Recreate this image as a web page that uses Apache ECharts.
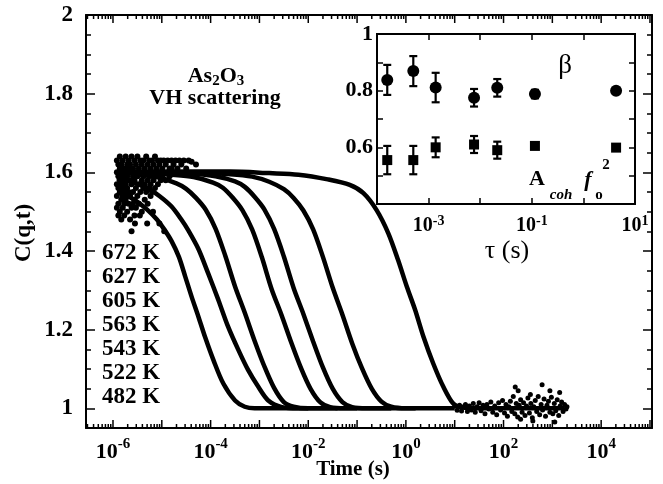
<!DOCTYPE html>
<html><head><meta charset="utf-8">
<script src="https://cdn.jsdelivr.net/npm/echarts@6/dist/echarts.min.js"></script>
<style>html,body{margin:0;padding:0;background:#fff}#c{width:663px;height:484px}</style>
</head><body><div id="c"></div>
<script>
const FONT = '"Liberation Serif","Times New Roman",Times,serif';

// ---------- main panel data: log10(time / s) and C(q,t) ----------
const temps = ['672 K', '627 K', '605 K', '563 K', '543 K', '522 K', '482 K'];

const logT_672 = [-5.92, -5.7, -5.5, -5.3, -5.1, -4.95, -4.8, -4.65, -4.52, -4.39, -4.25, -4.11, -3.94, -3.74, -3.5, -3.3, -3.1, -2.8, -2.4, -2.0];
const C_672    = [1.55, 1.54, 1.525, 1.505, 1.48, 1.455, 1.425, 1.385, 1.335, 1.284, 1.233, 1.18, 1.122, 1.063, 1.02, 1.004, 1.0, 1.0, 1.0, 1.0];

const logT_627 = [-5.92, -5.6, -5.3, -5.05, -4.8, -4.6, -4.46, -4.25, -4.05, -3.84, -3.64, -3.43, -3.23, -3.02, -2.82, -2.54, -2.2, -1.8, -1.4];
const C_627    = [1.585, 1.575, 1.56, 1.54, 1.513, 1.48, 1.453, 1.405, 1.343, 1.275, 1.207, 1.148, 1.097, 1.054, 1.02, 1.003, 1.0, 1.0, 1.0];

const logT_605 = [-5.92, -5.5, -5.1, -4.7, -4.5, -4.3, -4.1, -3.9, -3.7, -3.5, -3.3, -3.1, -2.9, -2.7, -2.5, -2.3, -2.0, -1.5, -1.0];
const C_605    = [1.60, 1.595, 1.588, 1.572, 1.558, 1.535, 1.505, 1.457, 1.388, 1.31, 1.243, 1.172, 1.107, 1.052, 1.016, 1.004, 1.0, 1.0, 1.0];

const logT_563 = [-5.92, -5.3, -4.8, -4.35, -3.95, -3.75, -3.55, -3.35, -3.15, -2.95, -2.75, -2.55, -2.35, -2.15, -1.95, -1.75, -1.55, -1.25, -0.8, -0.3];
const C_563    = [1.60, 1.598, 1.594, 1.588, 1.574, 1.561, 1.536, 1.504, 1.455, 1.384, 1.303, 1.238, 1.168, 1.103, 1.049, 1.015, 1.003, 1.0, 1.0, 1.0];

const logT_543 = [-5.92, -5.0, -4.4, -3.9, -3.5, -3.3, -3.1, -2.9, -2.7, -2.5, -2.3, -2.1, -1.9, -1.7, -1.5, -1.3, -1.1, -0.8, -0.3, 0.2];
const C_543    = [1.60, 1.60, 1.597, 1.59, 1.577, 1.563, 1.538, 1.506, 1.456, 1.386, 1.306, 1.24, 1.17, 1.104, 1.05, 1.016, 1.003, 1.0, 1.0, 1.0];

const logT_522 = [-5.92, -4.5, -3.6, -3.15, -2.8, -2.5, -2.3, -2.1, -1.9, -1.7, -1.5, -1.3, -1.1, -0.9, -0.7, -0.5, -0.3, 0.0, 0.5, 1.0];
const C_522    = [1.60, 1.60, 1.595, 1.589, 1.576, 1.557, 1.535, 1.503, 1.455, 1.385, 1.307, 1.238, 1.165, 1.102, 1.05, 1.017, 1.004, 1.0, 1.0, 1.0];

const logT_482 = [-5.92, -4.5, -3.6, -2.8, -2.2, -1.6, -1.15, -0.87, -0.6, -0.36, -0.16, 0.02, 0.19, 0.36, 0.56, 0.77, 0.97, 1.15, 1.5, 2.0, 2.5, 3.0, 3.25];
const C_482    = [1.60, 1.602, 1.602, 1.598, 1.594, 1.582, 1.568, 1.547, 1.504, 1.445, 1.377, 1.309, 1.25, 1.182, 1.114, 1.054, 1.012, 1.002, 1.0, 1.0, 1.0, 1.0, 1.0];

// scattered early-time points, [log10 t, C] (all temperatures overlap here)
const noiseEarly = [
  [-5.92,1.63],[-5.92,1.60],[-5.92,1.57],[-5.92,1.54],[-5.92,1.51],
  [-5.89,1.62],[-5.89,1.59],[-5.89,1.56],[-5.89,1.52],[-5.89,1.49],
  [-5.86,1.64],[-5.86,1.61],[-5.86,1.58],[-5.86,1.55],[-5.86,1.50],
  [-5.83,1.62],[-5.83,1.60],[-5.83,1.57],[-5.83,1.53],[-5.83,1.48],
  [-5.80,1.63],[-5.80,1.59],[-5.80,1.56],[-5.80,1.54],[-5.80,1.51],
  [-5.77,1.61],[-5.77,1.58],[-5.77,1.55],[-5.77,1.52],[-5.77,1.49],
  [-5.74,1.64],[-5.74,1.60],[-5.74,1.57],[-5.74,1.53],
  [-5.71,1.62],[-5.71,1.59],[-5.71,1.56],[-5.71,1.50],
  [-5.68,1.63],[-5.68,1.61],[-5.68,1.55],[-5.68,1.52],
  [-5.65,1.62],[-5.65,1.58],[-5.65,1.54],[-5.65,1.48],
  [-5.62,1.64],[-5.62,1.60],[-5.62,1.57],[-5.62,1.51],
  [-5.59,1.61],[-5.59,1.59],[-5.59,1.55],[-5.59,1.52],
  [-5.56,1.63],[-5.56,1.58],[-5.56,1.53],[-5.56,1.49],
  [-5.53,1.62],[-5.53,1.60],[-5.53,1.56],[-5.53,1.51],
  [-5.50,1.64],[-5.50,1.59],[-5.50,1.54],
  [-5.47,1.61],[-5.47,1.57],[-5.47,1.52],
  [-5.44,1.63],[-5.44,1.60],[-5.44,1.55],
  [-5.41,1.62],[-5.41,1.58],[-5.41,1.50],
  [-5.38,1.63],[-5.38,1.59],[-5.38,1.56],
  [-5.35,1.61],[-5.35,1.57],[-5.35,1.53],
  [-5.32,1.64],[-5.32,1.60],[-5.32,1.55],
  [-5.29,1.62],[-5.29,1.58],[-5.29,1.52],
  [-5.26,1.63],[-5.26,1.59],[-5.26,1.56],
  [-5.23,1.61],[-5.23,1.57],[-5.23,1.54],
  [-5.20,1.63],[-5.20,1.60],[-5.20,1.55],
  [-5.17,1.62],[-5.17,1.58],
  [-5.14,1.64],[-5.14,1.60],[-5.14,1.56],
  [-5.11,1.61],[-5.11,1.59],
  [-5.08,1.63],[-5.08,1.57],
  [-5.05,1.62],[-5.05,1.60],
  [-5.02,1.63],[-5.02,1.58],
  [-4.99,1.61],[-4.99,1.59],
  [-4.96,1.63],[-4.96,1.60],
  [-4.92,1.62],[-4.92,1.58],
  [-4.88,1.63],[-4.88,1.60],
  [-4.84,1.61],[-4.84,1.59],
  [-4.80,1.63],[-4.80,1.61],
  [-4.76,1.62],[-4.76,1.60],
  [-4.72,1.63],[-4.68,1.61],[-4.64,1.63],[-4.60,1.62],[-4.55,1.63],
  [-4.50,1.61],[-4.45,1.63],[-4.39,1.627],[-4.30,1.62],
  [-5.55,1.47],[-5.45,1.49],[-5.30,1.47],[-5.18,1.50],[-5.05,1.47],[-4.95,1.45],[-5.62,1.45]
];

// scattered long-time tail of the 482 K run, [log10 t, C]
const noiseTail = [
  [1.00,1.005],[1.05,0.995],[1.10,1.008],[1.14,0.993],[1.18,1.004],[1.22,1.010],[1.26,0.992],[1.30,1.006],
  [1.34,0.996],[1.38,1.012],[1.42,0.990],[1.46,1.004],[1.50,1.014],[1.54,0.994],[1.58,1.008],[1.62,0.986],
  [1.66,1.010],[1.70,0.998],[1.74,1.016],[1.78,0.990],[1.82,1.006],[1.86,0.984],[1.90,1.014],[1.94,0.996],
  [1.98,1.020],[2.02,0.988],[2.05,1.010],[2.08,0.980],[2.11,1.004],[2.14,1.018],[2.17,0.992],[2.20,1.030],
  [2.23,0.986],[2.24,1.054],[2.26,1.012],[2.29,0.978],[2.30,1.045],[2.32,1.008],[2.35,1.022],[2.35,0.972],
  [2.38,0.990],[2.41,1.014],[2.44,0.982],[2.47,1.006],[2.50,1.026],[2.53,0.988],[2.55,1.035],[2.56,1.012],
  [2.59,0.976],[2.60,0.968],[2.62,1.004],[2.65,1.020],[2.68,0.992],[2.71,1.030],[2.74,0.984],[2.77,1.010],
  [2.79,1.060],[2.80,0.996],[2.83,1.024],[2.86,0.980],[2.89,1.008],[2.92,1.018],[2.95,0.990],[2.95,1.045],
  [2.98,1.028],[3.01,0.986],[3.04,1.012],[3.05,0.965],[3.07,0.994],[3.10,1.022],[3.13,0.982],[3.15,1.040],
  [3.16,1.006],[3.19,1.016],[3.22,0.992],[3.25,1.010],[3.28,0.998],[3.30,1.004]
];

// ---------- inset data ----------
const tau     = [1.58e-4, 5.05e-4, 1.37e-3, 7.6e-3, 0.0214, 0.115, 4.3];
const beta    = [0.838, 0.869, 0.811, 0.775, 0.81, 0.788, 0.80];
const betaErr = [0.053, 0.053, 0.052, 0.031, 0.031, 0.015, 0];
const aCoh    = [0.555, 0.555, 0.60, 0.61, 0.59, 0.605, 0.599];
const aCohErr = [0.05, 0.05, 0.035, 0.03, 0.03, 0, 0];

// ---------- tick labels ----------
const mainXTickExps = [-6, -4, -2, 0, 2, 4];
const mainYTickLabels = ['1', '1.2', '1.4', '1.6', '1.8', '2'];
const insetXTickExps = [-3, -1, 1];
const insetYTickLabels = ['0.6', '0.8', '1'];

// ---------- build ----------
const curves = [[logT_672, C_672], [logT_627, C_627], [logT_605, C_605], [logT_563, C_563], [logT_543, C_543], [logT_522, C_522], [logT_482, C_482]];
const toPairs = (lt, c) => lt.map((v, i) => [Math.pow(10, v), c[i]]);
const fromLogPairs = arr => arr.map(p => [Math.pow(10, p[0]), p[1]]);

const X_MIN = 2.8e-7, X_MAX = 1.1e5;
// log-axis tick marks (decades and 2..9 sub-divisions)
const xTickMarks = [];
for (let d = -7; d <= 5; d++) {
  for (let k = 1; k <= 9; k++) {
    const v = k * Math.pow(10, d);
    if (v > X_MIN * 1.001 && v < X_MAX * 0.999) xTickMarks.push([v, 1.5, k === 1 ? 8 : 4]);
  }
}

function expOf(v) {
  const l = Math.log10(v), e = Math.round(l);
  return Math.abs(l - e) < 1e-6 ? e : null;
}
function numLabel(v) { return String(+v.toFixed(2)); }

const richMain = {
  b: { fontFamily: FONT, fontWeight: 'bold', fontSize: 22, lineHeight: 26, color: '#000', verticalAlign: 'bottom' },
  s: { fontFamily: FONT, fontWeight: 'bold', fontSize: 15, lineHeight: 15, color: '#000', verticalAlign: 'top' }
};
const richInset = {
  b: { fontFamily: FONT, fontWeight: 'bold', fontSize: 20, lineHeight: 22, color: '#000', verticalAlign: 'bottom' },
  s: { fontFamily: FONT, fontWeight: 'bold', fontSize: 14, lineHeight: 13, color: '#000', verticalAlign: 'top' }
};

const axLine = { show: true, lineStyle: { color: '#000', width: 2 } };

const option = {
  animation: false,
  backgroundColor: '#fff',
  grid: [
    { left: 86, top: 15, width: 566, height: 413, show: false },
    { left: 377, top: 34, width: 258, height: 170, show: true, backgroundColor: '#fff', borderColor: '#000', borderWidth: 2 }
  ],
  xAxis: [
    { gridIndex: 0, type: 'log', logBase: 100, min: X_MIN, max: X_MAX, position: 'bottom',
      axisLine: axLine, axisTick: { show: false }, splitLine: { show: false },
      axisLabel: { margin: 9, rich: richMain, showMinLabel: false, showMaxLabel: false,
        formatter: v => { const e = expOf(v); return (e !== null && mainXTickExps.includes(e)) ? '{b|10}{s|' + e + '}' : ''; } } },
    { gridIndex: 0, type: 'log', logBase: 100, min: X_MIN, max: X_MAX, position: 'top',
      axisLine: axLine, axisTick: { show: false }, splitLine: { show: false }, axisLabel: { show: false } },
    { gridIndex: 1, type: 'log', logBase: 10, min: 1e-4, max: 10, position: 'bottom',
      axisLine: axLine, axisTick: { inside: true, length: 6, lineStyle: { color: '#000', width: 1.5 } }, splitLine: { show: false },
      axisLabel: { margin: 10, rich: richInset,
        formatter: v => { const e = expOf(v); return (e !== null && insetXTickExps.includes(e)) ? '{b|10}{s|' + e + '}' : ''; } } },
    { gridIndex: 1, type: 'log', logBase: 10, min: 1e-4, max: 10, position: 'top',
      axisLine: axLine, axisTick: { inside: true, length: 6, lineStyle: { color: '#000', width: 1.5 } }, splitLine: { show: false }, axisLabel: { show: false } }
  ],
  yAxis: [
    { gridIndex: 0, type: 'value', min: 0.95, max: 2, splitNumber: 5, position: 'left',
      axisLine: axLine, axisTick: { inside: true, length: 9, lineStyle: { color: '#000', width: 1.5 } }, splitLine: { show: false },
      axisLabel: { margin: 13, fontFamily: FONT, fontWeight: 'bold', fontSize: 23, color: '#000',
        formatter: v => { const s = numLabel(v); return mainYTickLabels.includes(s) ? s : ''; } } },
    { gridIndex: 0, type: 'value', min: 0.95, max: 2, interval: 0.05, position: 'left',
      axisLine: { show: false }, axisTick: { inside: true, length: 5, lineStyle: { color: '#000', width: 1.5 } }, splitLine: { show: false }, axisLabel: { show: false } },
    { gridIndex: 0, type: 'value', min: 0.95, max: 2, splitNumber: 5, position: 'right',
      axisLine: axLine, axisTick: { inside: true, length: 9, lineStyle: { color: '#000', width: 1.5 } }, splitLine: { show: false }, axisLabel: { show: false } },
    { gridIndex: 0, type: 'value', min: 0.95, max: 2, interval: 0.05, position: 'right',
      axisLine: { show: false }, axisTick: { inside: true, length: 5, lineStyle: { color: '#000', width: 1.5 } }, splitLine: { show: false }, axisLabel: { show: false } },
    { gridIndex: 1, type: 'value', min: 0.4, max: 1, interval: 0.1, position: 'left',
      axisLine: axLine, axisTick: { inside: true, length: 6, lineStyle: { color: '#000', width: 1.5 } }, splitLine: { show: false },
      axisLabel: { margin: 4, fontFamily: FONT, fontWeight: 'bold', fontSize: 22, color: '#000',
        formatter: v => { const s = numLabel(v); return insetYTickLabels.includes(s) ? s : ''; } } },
    { gridIndex: 1, type: 'value', min: 0.4, max: 1, interval: 0.1, position: 'right',
      axisLine: axLine, axisTick: { inside: true, length: 6, lineStyle: { color: '#000', width: 1.5 } }, splitLine: { show: false }, axisLabel: { show: false } }
  ],
  series: [],
  graphic: []
};

curves.forEach((c, i) => {
  option.series.push({
    type: 'line', name: temps[i], xAxisIndex: 0, yAxisIndex: 0,
    data: toPairs(c[0], c[1]), symbol: 'none', showSymbol: false,
    smooth: 0.3, lineStyle: { color: '#000', width: 4.5 }, z: 3
  });
});
option.series.push({
  type: 'scatter', xAxisIndex: 0, yAxisIndex: 0, symbolSize: 6, itemStyle: { color: '#000', opacity: 1 },
  data: fromLogPairs(noiseEarly), z: 3
});
option.series.push({
  type: 'scatter', xAxisIndex: 0, yAxisIndex: 0, symbolSize: 5, itemStyle: { color: '#000', opacity: 1 },
  data: fromLogPairs(noiseTail), z: 3
});
// x tick marks on main panel (bottom and top)
option.series.push({
  type: 'custom', xAxisIndex: 0, yAxisIndex: 0, data: xTickMarks, clip: false, silent: true, z: 4,
  encode: { x: 0, y: 1 },
  renderItem: (params, api) => {
    const x = api.coord([api.value(0), 1.5])[0];
    const len = api.value(2);
    const cs = params.coordSys;
    const yb = cs.y + cs.height, yt = cs.y;
    const st = { stroke: '#000', lineWidth: 1.5 };
    return { type: 'group', children: [
      { type: 'line', shape: { x1: x, y1: yb, x2: x, y2: yb - len }, style: st },
      { type: 'line', shape: { x1: x, y1: yt, x2: x, y2: yt + len }, style: st }
    ] };
  }
});
// inset error bars
const errData = [];
tau.forEach((t, i) => {
  if (betaErr[i] > 0) errData.push([t, beta[i] - betaErr[i], beta[i] + betaErr[i]]);
  if (aCohErr[i] > 0) errData.push([t, aCoh[i] - aCohErr[i], aCoh[i] + aCohErr[i]]);
});
option.series.push({
  type: 'custom', xAxisIndex: 2, yAxisIndex: 4, data: errData, z: 5,
  encode: { x: 0, y: [1, 2] },
  renderItem: (params, api) => {
    const lo = api.coord([api.value(0), api.value(1)]);
    const hi = api.coord([api.value(0), api.value(2)]);
    const st = { stroke: '#000', lineWidth: 2.2 };
    const w = 4;
    return { type: 'group', children: [
      { type: 'line', shape: { x1: lo[0], y1: lo[1], x2: hi[0], y2: hi[1] }, style: st },
      { type: 'line', shape: { x1: lo[0] - w, y1: lo[1], x2: lo[0] + w, y2: lo[1] }, style: st },
      { type: 'line', shape: { x1: hi[0] - w, y1: hi[1], x2: hi[0] + w, y2: hi[1] }, style: st }
    ] };
  }
});
option.series.push({
  type: 'scatter', xAxisIndex: 2, yAxisIndex: 4, symbol: 'circle', symbolSize: 12, itemStyle: { color: '#000', opacity: 1 },
  data: tau.map((t, i) => [t, beta[i]]), z: 6
});
option.series.push({
  type: 'scatter', xAxisIndex: 2, yAxisIndex: 4, symbol: 'rect', symbolSize: 10, itemStyle: { color: '#000', opacity: 1 },
  data: tau.map((t, i) => [t, aCoh[i]]), z: 6
});

// ---------- text ----------
function txt(text, x, y, size, opts) {
  opts = opts || {};
  return {
    type: 'text', x: x, y: y, z: 100, rotation: opts.rotation || 0,
    style: {
      text: text, fill: '#000', align: opts.align || 'center', verticalAlign: 'middle',
      fontFamily: FONT, fontSize: size, fontWeight: opts.weight || 'bold', fontStyle: opts.italic ? 'italic' : 'normal',
      rich: opts.rich
    }
  };
}
const g = option.graphic;
g.push(txt('{m|As}{u|2}{m|O}{u|3}', 216, 76, 22, { rich: {
  m: { fontFamily: FONT, fontWeight: 'bold', fontSize: 22, lineHeight: 26, verticalAlign: 'middle' },
  u: { fontFamily: FONT, fontWeight: 'bold', fontSize: 15, lineHeight: 14, verticalAlign: 'bottom' } } }));
g.push(txt('VH scattering', 215, 98, 22));
const tempY = [253, 277, 301, 325, 349, 373, 397];
temps.forEach((t, i) => g.push(txt(t, 102, tempY[i], 23, { align: 'left' })));
g.push(txt('C(q,t)', 24, 233, 23, { rotation: Math.PI / 2 }));
g.push(txt('Time (s)', 353, 470, 21));
g.push(txt('τ (s)', 507, 251, 26, { weight: 'normal' }));
g.push(txt('β', 565, 66, 27, { weight: 'normal' }));
g.push(txt('A', 537, 179, 22));
g.push(txt('coh', 561, 195, 15, { italic: true }));
g.push(txt('f', 588, 180, 22, { italic: true }));
g.push(txt('o', 599, 195, 15));
g.push(txt('2', 606, 165, 15));

const chart = echarts.init(document.getElementById('c'), null, { renderer: 'canvas' });
chart.setOption(option);
</script>
</body></html>
